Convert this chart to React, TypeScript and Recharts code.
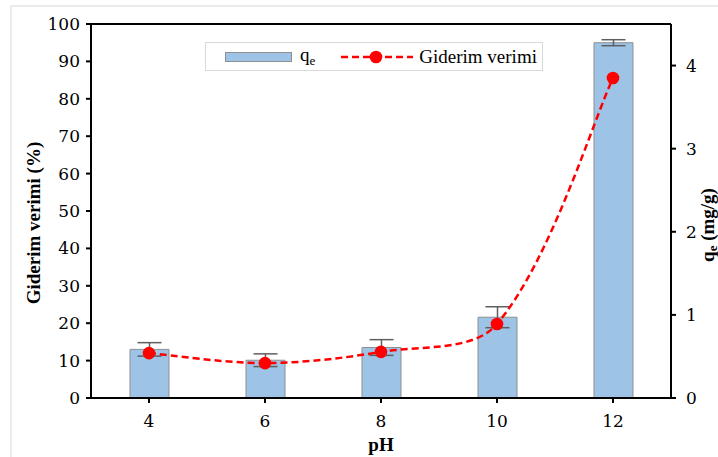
import {
  ComposedChart,
  XAxis,
  YAxis,
  Bar,
  Line,
  ErrorBar,
  Legend,
  ReferenceLine,
} from "recharts";

const phLabels = ["4", "6", "8", "10", "12"];
const barValues = [13.0, 10.1, 13.5, 21.6, 95.0];
const barErrors = [1.8, 1.7, 2.1, 2.8, 0.8];
const lineValues = [0.54, 0.42, 0.555, 0.89, 3.85];
const leftTicks = [0, 10, 20, 30, 40, 50, 60, 70, 80, 90, 100];
const rightTicks = [0, 1, 2, 3, 4];

const data = phLabels.map((ph, i) => ({
  ph,
  bar: barValues[i],
  err: barErrors[i],
  line: lineValues[i],
}));

const FONT = "'Liberation Serif', 'DejaVu Serif', serif";
const TICK_FONT = "'DejaVu Serif', serif";
const BAR_FILL = "#9DC3E6";
const BAR_STROKE = "#8F8F8F";
const RED = "#FF0000";

// smoothed line, tangents weighted by segment length so it doesn't overshoot
const smoothCurve = (context: any) => {
  let pts: number[][] = [];
  const dist = (a: number[], b: number[]) => Math.hypot(b[0] - a[0], b[1] - a[1]);
  return {
    areaStart() {},
    areaEnd() {},
    lineStart() {
      pts = [];
    },
    point(x: number, y: number) {
      pts.push([+x, +y]);
    },
    lineEnd() {
      if (!pts.length) return;
      context.moveTo(pts[0][0], pts[0][1]);
      for (let i = 0; i < pts.length - 1; i++) {
        const p1 = pts[i];
        const p2 = pts[i + 1];
        const d12 = dist(p1, p2);
        let c1 = [p1[0] + (p2[0] - p1[0]) / 6, p1[1] + (p2[1] - p1[1]) / 6];
        if (i > 0) {
          const p0 = pts[i - 1];
          const f = d12 / (dist(p0, p1) + d12) / 3;
          c1 = [p1[0] + (p2[0] - p0[0]) * f, p1[1] + (p2[1] - p0[1]) * f];
        }
        let c2 = [p2[0] - (p2[0] - p1[0]) / 6, p2[1] - (p2[1] - p1[1]) / 6];
        if (i + 2 < pts.length) {
          const p3 = pts[i + 2];
          const f = d12 / (d12 + dist(p2, p3)) / 3;
          c2 = [p2[0] - (p3[0] - p1[0]) * f, p2[1] - (p3[1] - p1[1]) * f];
        }
        context.bezierCurveTo(c1[0], c1[1], c2[0], c2[1], p2[0], p2[1]);
      }
    },
  };
};

const LeftTitle = (props: any) => {
  const vb = props.viewBox || { x: 0, y: 24, width: 91, height: 374 };
  const x = vb.x + 33;
  const y = vb.y + vb.height / 2 + 12;
  return (
    <text
      x={x}
      y={y}
      transform={`rotate(-90 ${x} ${y})`}
      textAnchor="middle"
      dominantBaseline="central"
      fontSize={19}
      fontWeight="bold"
      fill="#000"
    >
      Giderim verimi (%)
    </text>
  );
};

const RightTitle = (props: any) => {
  const vb = props.viewBox || { x: 671, y: 24, width: 47, height: 374 };
  const x = vb.x + vb.width - 11;
  const y = vb.y + vb.height / 2 + 14;
  return (
    <text
      x={x}
      y={y}
      transform={`rotate(-90 ${x} ${y})`}
      textAnchor="middle"
      dominantBaseline="central"
      fontSize={19}
      fontWeight="bold"
      fill="#000"
    >
      q
      <tspan fontSize={13} dy={5}>
        e
      </tspan>
      <tspan dy={-5}> (mg/g)</tspan>
    </text>
  );
};

const LegendBox = () => (
  <div
    style={{
      display: "flex",
      alignItems: "center",
      width: 338,
      height: 29,
      boxSizing: "border-box",
      border: "1.5px solid #d9d9d9",
      background: "#fff",
      fontFamily: FONT,
      fontSize: 19,
      color: "#000",
    }}
  >
    <div
      style={{
        marginLeft: 19,
        width: 67,
        height: 10,
        boxSizing: "border-box",
        background: BAR_FILL,
        border: `1px solid ${BAR_STROKE}`,
      }}
    />
    <span style={{ marginLeft: 8 }}>
      q<sub style={{ fontSize: 13, verticalAlign: -4 }}>e</sub>
    </span>
    <svg width={72} height={14} style={{ marginLeft: 26 }}>
      <line
        x1={0}
        y1={7}
        x2={72}
        y2={7}
        stroke={RED}
        strokeWidth={2.5}
        strokeDasharray="7 4"
      />
      <circle cx={35} cy={7} r={6.3} fill={RED} />
    </svg>
    <span style={{ marginLeft: 6 }}>Giderim verimi</span>
  </div>
);

const tickStyle = { fontSize: 17, fill: "#000", fontFamily: TICK_FONT };

export default function App() {
  return (
    <div
      style={{
        position: "absolute",
        left: 0,
        top: 0,
        width: 718,
        height: 457,
        background: "#fff",
        fontFamily: FONT,
      }}
    >
      <div
        style={{
          position: "absolute",
          left: 10,
          top: 5,
          width: 708,
          height: 452,
          boxSizing: "border-box",
          borderLeft: "2px solid #ebebeb",
          borderTop: "2px solid #ebebeb",
        }}
      />
      <ComposedChart
        width={718}
        height={457}
        data={data}
        margin={{ top: 24, right: 0, bottom: 0, left: 0 }}
      >
        <XAxis
          dataKey="ph"
          height={59}
          axisLine={{ stroke: "#000", strokeWidth: 2 }}
          tickLine={{ stroke: "#000", strokeWidth: 2 }}
          tickSize={5}
          tickMargin={12}
          tick={tickStyle}
          label={{
            value: "pH",
            position: "insideBottom",
            offset: 6,
            style: { fontSize: 19, fontWeight: "bold", fill: "#000" },
          }}
        />
        <YAxis
          yAxisId="left"
          orientation="left"
          width={91}
          domain={[0, 100]}
          ticks={leftTicks}
          interval={0}
          axisLine={{ stroke: "#000", strokeWidth: 2 }}
          tickLine={{ stroke: "#000", strokeWidth: 2 }}
          tickSize={5}
          tickMargin={6}
          tick={tickStyle}
          label={<LeftTitle />}
        />
        <YAxis
          yAxisId="right"
          orientation="right"
          width={47}
          domain={[0, 4.5]}
          ticks={rightTicks}
          interval={0}
          axisLine={{ stroke: "#000", strokeWidth: 2 }}
          tickLine={{ stroke: "#000", strokeWidth: 2 }}
          tickSize={5}
          tickMargin={10}
          tick={tickStyle}
          label={<RightTitle />}
        />
        <ReferenceLine yAxisId="left" y={100} stroke="#000" strokeWidth={2} />
        <Legend
          verticalAlign="middle"
          align="center"
          layout="horizontal"
          content={<LegendBox />}
          wrapperStyle={{ left: 205, top: 42, width: 338, height: 29 }}
        />
        <Bar
          yAxisId="left"
          dataKey="bar"
          name="qe"
          barSize={39}
          fill={BAR_FILL}
          stroke={BAR_STROKE}
          strokeWidth={1}
          isAnimationActive={false}
        >
          <ErrorBar
            dataKey="err"
            direction="y"
            width={12}
            stroke="#5f5f5f"
            strokeWidth={1.5}
          />
        </Bar>
        <Line
          yAxisId="right"
          dataKey="line"
          name="Giderim verimi"
          type={smoothCurve as any}
          stroke={RED}
          strokeWidth={2.5}
          strokeDasharray="7 4"
          dot={{ r: 6.3, fill: RED, stroke: "none" }}
          activeDot={false}
          isAnimationActive={false}
        />
      </ComposedChart>
    </div>
  );
}
